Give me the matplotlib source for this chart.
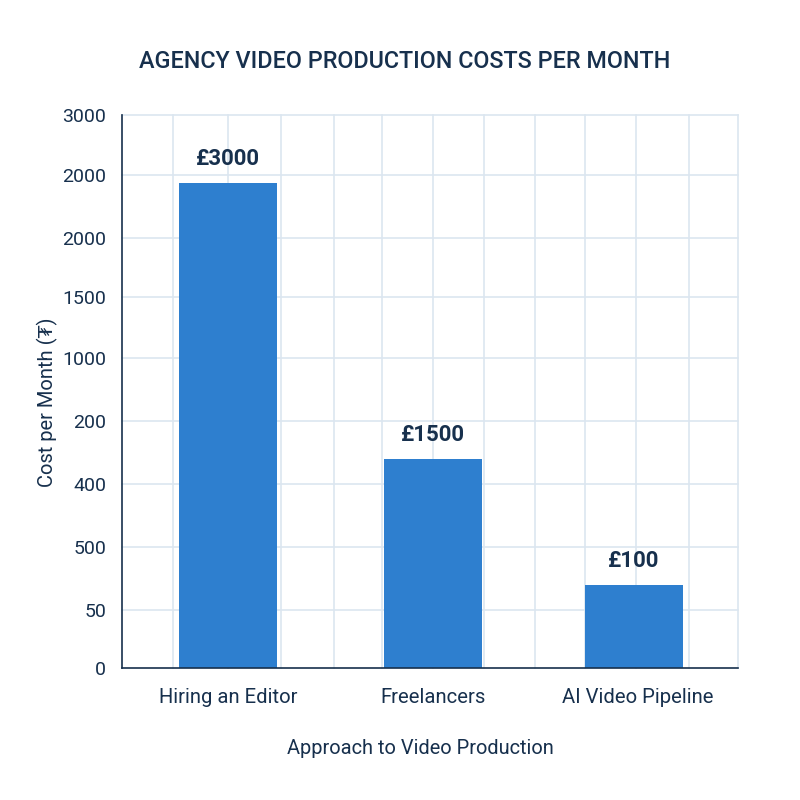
import matplotlib
matplotlib.use("Agg")
import matplotlib.pyplot as plt

plt.rcParams['font.family'] = ['Roboto', 'DejaVu Sans']

# dados
categorias = ["Hiring an Editor", "Freelancers", "AI Video Pipeline"]
posicoes = [0, 1.01, 2.0]
posicoes_texto = [0, 1.01, 2.02]
custos = [2631, 1134, 450]
rotulos = ["£3000", "£1500", "£100"]

y_ticks = [0, 315, 656, 998, 1340, 1682, 2013, 2333, 2675, 3000]
y_labels = ["0", "50", "500", "400", "200", "1000", "1500", "2000", "2000", "3000"]
x_grade = [-0.27, 0, 0.26, 0.52, 0.76, 1.01, 1.26, 1.51, 1.76, 2.01, 2.27, 2.51]

azul = "#2e7fcf"
escuro = "#17304d"
grade = "#dce6f0"

fig = plt.figure(figsize=(8, 8), dpi=100, facecolor="white")
ax = fig.add_axes([122 / 800, 132 / 800, 616 / 800, 553 / 800])

ax.bar(posicoes, custos, width=0.485, color=azul, zorder=3)
for x, y, txt in zip(posicoes, custos, rotulos):
    ax.annotate(txt, (x, y), xytext=(0, 9.2), textcoords="offset points", ha="center", va="bottom",
                fontsize=16, fontweight="bold", color=escuro, zorder=4)

ax.set_xlim(-0.522, 2.512)
ax.set_ylim(0, 3000)

for x in x_grade:
    ax.axvline(x, color=grade, lw=1.2, zorder=1, clip_on=False)
for y in y_ticks[1:]:
    ax.axhline(y, color=grade, lw=1.2, zorder=1, clip_on=False)

ax.set_xticks(posicoes_texto)
ax.set_xticklabels(categorias)
ax.set_yticks(y_ticks)
ax.set_yticklabels(y_labels)
ax.tick_params(axis="both", length=0, labelcolor=escuro)
ax.tick_params(axis="x", pad=14.5, labelsize=14.6)
ax.tick_params(axis="y", pad=11.5, labelsize=14)

ax.spines["top"].set_visible(False)
ax.spines["right"].set_visible(False)
for lado in ["left", "bottom"]:
    ax.spines[lado].set_color(escuro)
    ax.spines[lado].set_linewidth(1.2)
    ax.spines[lado].set_zorder(5)

fig.text(405 / 800, 1 - 61 / 800, "AGENCY VIDEO PRODUCTION COSTS PER MONTH", ha="center", va="center",
         fontsize=16.8, fontweight="medium", color=escuro)
fig.text(420 / 800, 1 - 749 / 800, "Approach to Video Production", ha="center", va="center",
         fontsize=14.4, color=escuro)
fig.text(47 / 800, 1 - 402 / 800, "Cost per Month (₮)", ha="center", va="center", rotation=90,
         fontsize=14.5, color=escuro)

fig.savefig("out.png", dpi=100)
